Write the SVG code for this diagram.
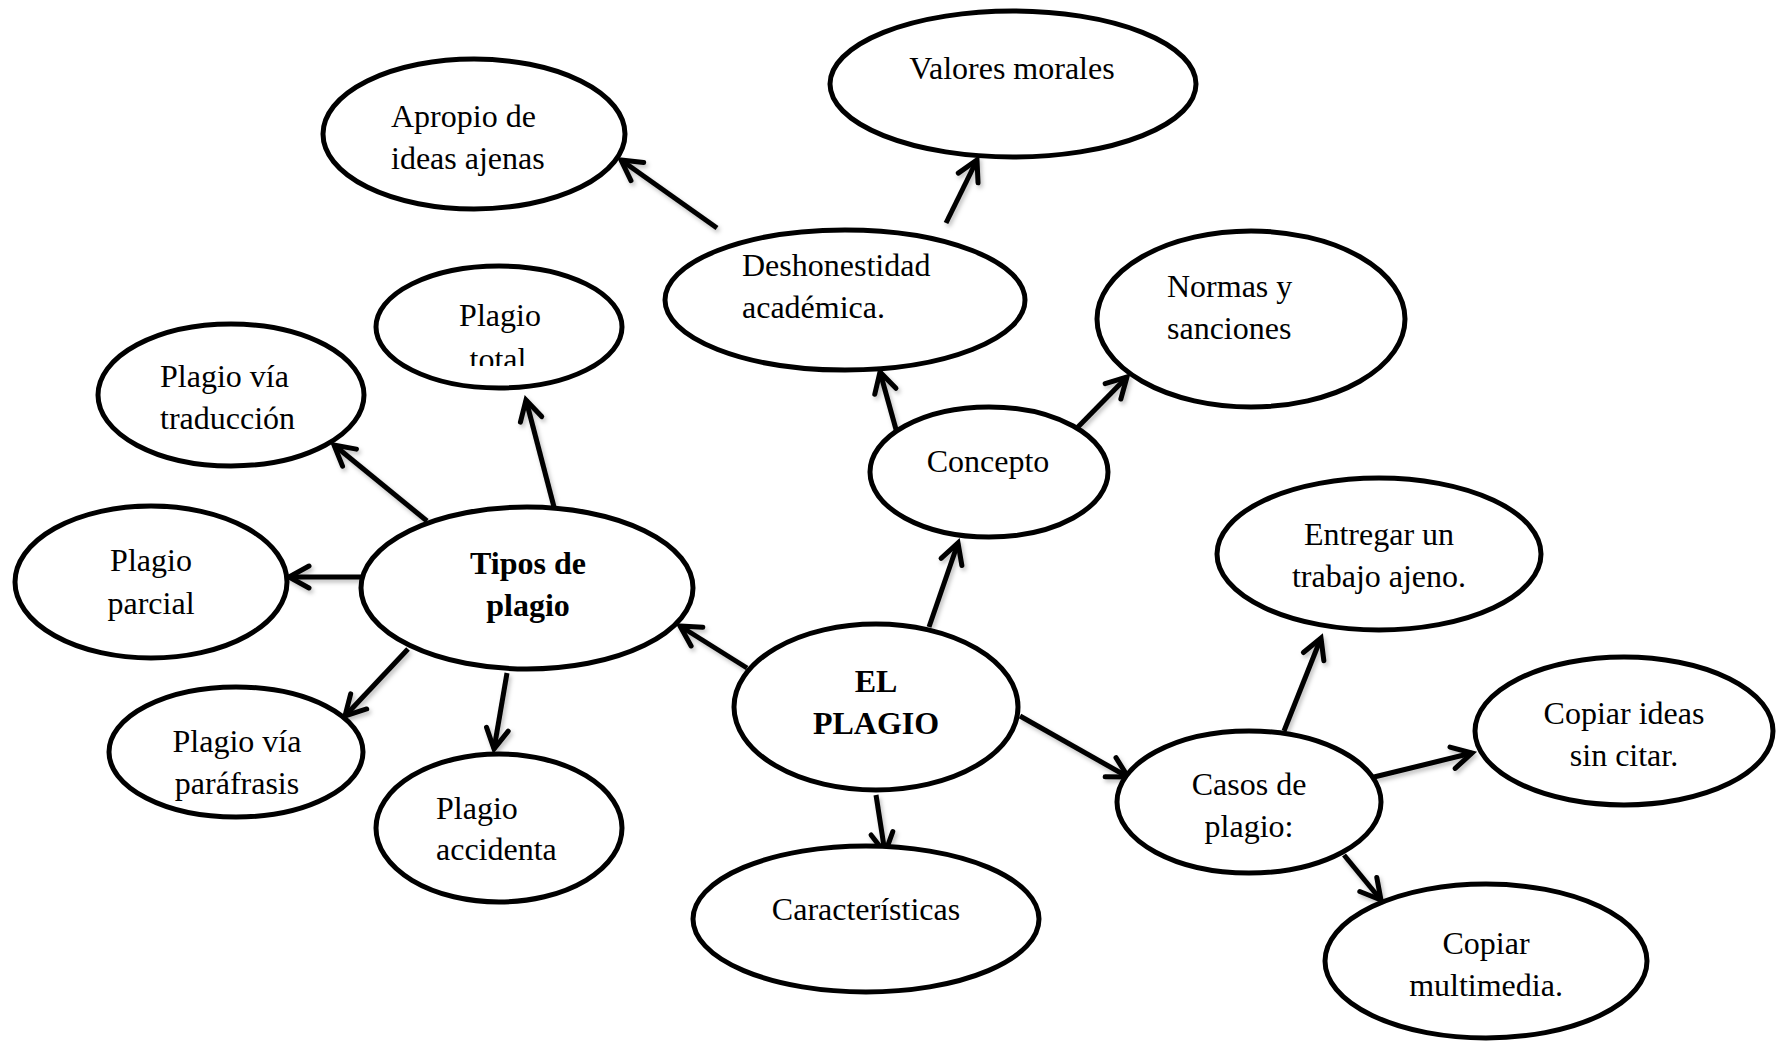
<svg xmlns="http://www.w3.org/2000/svg" width="1779" height="1042" viewBox="0 0 1779 1042">
<style>
.n ellipse{fill:#fff;stroke:#000;stroke-width:5}
.n text{font-family:"Liberation Serif","Times New Roman",serif;font-size:32px;fill:#000}
.c{text-anchor:middle}
.b{font-weight:bold}
#edges line{stroke:#000;stroke-width:5;marker-end:url(#arr)}
</style>
<defs>
<marker id="arr" markerUnits="userSpaceOnUse" markerWidth="30" markerHeight="30" viewBox="0 0 30 30" refX="24" refY="15" orient="auto">
<path d="M4,4 L24,15 L4,26" fill="none" stroke="#000" stroke-width="5" stroke-linecap="round"/>
</marker>
<filter id="sh" x="-20%" y="-20%" width="140%" height="140%">
<feDropShadow dx="2" dy="3" stdDeviation="2" flood-color="#000" flood-opacity="0.25"/>
</filter>
<clipPath id="clipTotal"><rect x="380" y="260" width="240" height="106"/></clipPath>
</defs>
<rect width="1779" height="1042" fill="#fff"/>
<g id="edges" filter="url(#sh)">
<line x1="717" y1="228" x2="621" y2="160"/>
<line x1="946" y1="223" x2="977" y2="160"/>
<line x1="897" y1="433" x2="880" y2="372"/>
<line x1="1076" y1="429" x2="1127" y2="377"/>
<line x1="929" y1="627" x2="958" y2="543"/>
<line x1="747" y1="668" x2="680" y2="626"/>
<line x1="1020" y1="716" x2="1128" y2="777"/>
<line x1="876" y1="795" x2="885" y2="853"/>
<line x1="1284" y1="731" x2="1321" y2="638"/>
<line x1="1374" y1="777" x2="1472" y2="753"/>
<line x1="1344" y1="855" x2="1381" y2="900"/>
<line x1="554" y1="507" x2="526" y2="400"/>
<line x1="427" y1="521" x2="334" y2="445"/>
<line x1="362" y1="577" x2="289" y2="577"/>
<line x1="408" y1="649" x2="345" y2="716"/>
<line x1="507" y1="673" x2="494" y2="749"/>
</g>
<g id="n-apropio" class="n"><ellipse cx="474" cy="134" rx="151" ry="75"/><text x="391" y="127">Apropio de</text><text x="391" y="169">ideas ajenas</text></g>
<g id="n-valores" class="n"><ellipse cx="1013" cy="84" rx="183" ry="73"/><text class="c" x="1012" y="79">Valores morales</text></g>
<g id="n-deshonestidad" class="n"><ellipse cx="845" cy="300" rx="180" ry="70"/><text x="742" y="276">Deshonestidad</text><text x="742" y="318">académica.</text></g>
<g id="n-normas" class="n"><ellipse cx="1251" cy="319" rx="154" ry="88"/><text x="1167" y="297">Normas y</text><text x="1167" y="339">sanciones</text></g>
<g id="n-total" class="n"><ellipse cx="499" cy="327" rx="123" ry="61"/><text class="c" x="500" y="326">Plagio</text><text class="c" x="498" y="370" clip-path="url(#clipTotal)">total</text></g>
<g id="n-traduccion" class="n"><ellipse cx="231" cy="395" rx="133" ry="71"/><text x="160" y="387">Plagio vía</text><text x="160" y="429">traducción</text></g>
<g id="n-concepto" class="n"><ellipse cx="989" cy="472" rx="119" ry="65"/><text class="c" x="988" y="472">Concepto</text></g>
<g id="n-parcial" class="n"><ellipse cx="151" cy="582" rx="136" ry="76"/><text class="c" x="151" y="571">Plagio</text><text class="c" x="151" y="614">parcial</text></g>
<g id="n-tipos" class="n"><ellipse cx="527" cy="588" rx="166" ry="81"/><text class="c b" x="528" y="574">Tipos de</text><text class="c b" x="528" y="616">plagio</text></g>
<g id="n-entregar" class="n"><ellipse cx="1379" cy="554" rx="162" ry="76"/><text class="c" x="1379" y="545">Entregar un</text><text class="c" x="1379" y="587">trabajo ajeno.</text></g>
<g id="n-elplagio" class="n"><ellipse cx="876" cy="707" rx="142" ry="83"/><text class="c b" x="876" y="692">EL</text><text class="c b" x="876" y="734">PLAGIO</text></g>
<g id="n-parafrasis" class="n"><ellipse cx="236" cy="752" rx="127" ry="65"/><text class="c" x="237" y="752">Plagio vía</text><text class="c" x="237" y="794">paráfrasis</text></g>
<g id="n-accidental" class="n"><ellipse cx="499" cy="828" rx="123" ry="74"/><text x="436" y="819">Plagio</text><text x="436" y="860">accidenta</text></g>
<g id="n-casos" class="n"><ellipse cx="1249" cy="802" rx="132" ry="71"/><text class="c" x="1249" y="795">Casos de</text><text class="c" x="1249" y="837">plagio:</text></g>
<g id="n-copiarideas" class="n"><ellipse cx="1624" cy="731" rx="149" ry="74"/><text class="c" x="1624" y="724">Copiar ideas</text><text class="c" x="1624" y="766">sin citar.</text></g>
<g id="n-caracteristicas" class="n"><ellipse cx="866" cy="919" rx="173" ry="73"/><text class="c" x="866" y="920">Características</text></g>
<g id="n-multimedia" class="n"><ellipse cx="1486" cy="961" rx="161" ry="77"/><text class="c" x="1486" y="954">Copiar</text><text class="c" x="1486" y="996">multimedia.</text></g>
</svg>
